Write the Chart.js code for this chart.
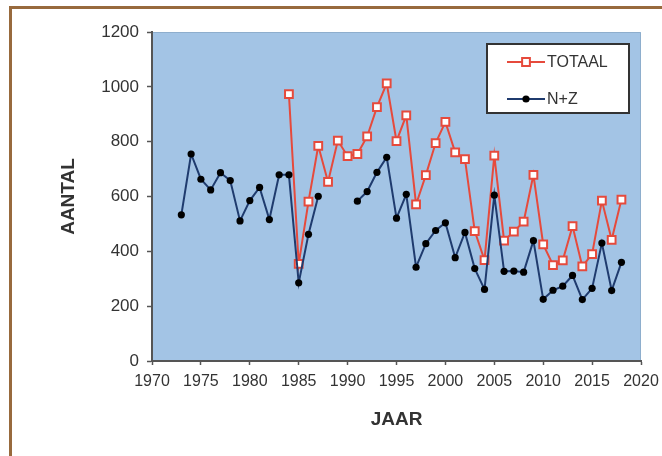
<!DOCTYPE html>
<html>
<head>
<meta charset="utf-8">
<script src="https://cdn.jsdelivr.net/npm/chart.js@4.4.1/dist/chart.umd.min.js"></script>
<style>
    html, body { margin: 0; padding: 0; background: #ffffff; }
    #wrap { position: relative; width: 662px; height: 456px; overflow: hidden; }
    #frame {
        position: absolute; top: 6px; left: 9px; right: 0; bottom: 0;
        border-top: 3px solid #986a3d; border-left: 3px solid #986a3d;
    }
    #chart { position: absolute; top: 0; left: 0; }
</style>
</head>
<body>
<div id="wrap">
    <div id="frame"></div>
    <canvas id="chart" width="662" height="456"></canvas>
</div>
<script>
// Years on the x axis
const years = [1973, 1974, 1975, 1976, 1977, 1978, 1979, 1980, 1981, 1982,
               1983, 1984, 1985, 1986, 1987, 1988, 1989, 1990, 1991, 1992,
               1993, 1994, 1995, 1996, 1997, 1998, 1999, 2000, 2001, 2002,
               2003, 2004, 2005, 2006, 2007, 2008, 2009, 2010, 2011, 2012,
               2013, 2014, 2015, 2016, 2017, 2018];

// TOTAAL (starts in 1984)
const totaal = [null, null, null, null, null, null, null, null, null, null,
                null, 973, 354, 581, 785, 653, 804, 747, 755, 819,
                926, 1013, 802, 896, 571, 678, 795, 872, 761, 736,
                474, 368, 749, 439, 472, 508, 679, 425, 350, 367,
                492, 345, 390, 585, 442, 589];

// N+Z (no values 1988-1990)
const nz = [533, 755, 663, 624, 687, 658, 511, 585, 633, 516,
            679, 679, 285, 462, 601, null, null, null, 583, 618,
            688, 743, 521, 608, 342, 428, 476, 504, 377, 469,
            337, 261, 605, 327, 328, 324, 439, 225, 258, 273,
            312, 224, 265, 430, 257, 360];

const yTicks = [0, 200, 400, 600, 800, 1000, 1200];

const toPoints = values => years.map((year, i) => ({ x: year, y: values[i] }));

const FONT = "'Liberation Sans', Arial, sans-serif";

// Light blue plot area behind the lines
const plotBackground = {
    id: "plotBackground",
    beforeDraw(chart) {
        const { ctx, chartArea: a } = chart;
        ctx.save();
        ctx.fillStyle = "#a3c4e5";
        ctx.fillRect(a.left, a.top, a.right - a.left, a.bottom - a.top);
        ctx.strokeStyle = "#8eaecd";
        ctx.lineWidth = 1;
        ctx.beginPath();
        ctx.moveTo(a.left, a.top + 0.5);
        ctx.lineTo(a.right - 0.5, a.top + 0.5);
        ctx.lineTo(a.right - 0.5, a.bottom);
        ctx.stroke();
        ctx.restore();
    }
};

// Boxed legend in the top right corner, line + marker samples
const boxLegend = {
    id: "boxLegend",
    afterDraw(chart) {
        const { ctx } = chart;
        const x = 487, y = 44, w = 142, h = 69;
        ctx.save();
        ctx.fillStyle = "#ffffff";
        ctx.fillRect(x, y, w, h);
        ctx.strokeStyle = "#333333";
        ctx.lineWidth = 2;
        ctx.strokeRect(x, y, w, h);

        const rows = [62, 99];
        chart.data.datasets.forEach((ds, i) => {
            const ry = rows[i];
            ctx.strokeStyle = ds.borderColor;
            ctx.lineWidth = 2;
            ctx.beginPath();
            ctx.moveTo(507, ry);
            ctx.lineTo(545, ry);
            ctx.stroke();
            ctx.fillStyle = ds.pointBackgroundColor;
            ctx.strokeStyle = ds.pointBorderColor;
            ctx.lineWidth = ds.pointBorderWidth;
            Chart.helpers.drawPoint(ctx, {
                pointStyle: ds.pointStyle,
                radius: ds.pointRadius,
                borderWidth: ds.pointBorderWidth
            }, 526, ry);
            ctx.fillStyle = "#333333";
            ctx.font = "16px " + FONT;
            ctx.textBaseline = "middle";
            ctx.textAlign = "left";
            ctx.fillText(ds.label, 547, ry + 1);
        });
        ctx.restore();
    }
};

const ctx = document.getElementById("chart").getContext("2d");

const chart = new Chart(ctx, {
    type: "line",
    data: {
        datasets: [{
            label: "TOTAAL",
            data: toPoints(totaal),
            borderColor: "#e64a3c",
            borderWidth: 2,
            pointStyle: "rect",
            pointRadius: 5.5,
            pointBorderWidth: 2,
            pointBackgroundColor: "#ffffff",
            pointBorderColor: "#e64a3c",
            spanGaps: false,
            tension: 0,
            order: 2
        }, {
            label: "N+Z",
            data: toPoints(nz),
            borderColor: "#1f3b6e",
            borderWidth: 2,
            pointStyle: "circle",
            pointRadius: 3.6,
            pointBorderWidth: 0,
            pointBackgroundColor: "#000000",
            pointBorderColor: "#000000",
            spanGaps: false,
            tension: 0,
            order: 1
        }]
    },
    options: {
        responsive: false,
        animation: false,
        layout: { padding: { left: 0, top: 32, right: 21, bottom: 0 } },
        plugins: {
            legend: { display: false },
            tooltip: { enabled: false }
        },
        scales: {
            x: {
                type: "linear",
                min: 1970,
                max: 2020,
                afterFit: s => { s.height = 95; s.paddingLeft = 0; s.paddingRight = 0; },
                ticks: {
                    stepSize: 5,
                    padding: 7,
                    color: "#333333",
                    font: { family: FONT, size: 16 },
                    maxRotation: 0,
                    callback: v => String(v)
                },
                grid: { drawOnChartArea: false, tickLength: 4, color: "#555555", tickWidth: 1.5 },
                border: { color: "#555555", width: 2 },
                title: {
                    display: true,
                    text: "JAAR",
                    color: "#333333",
                    font: { family: FONT, size: 19, weight: "bold" },
                    padding: { top: 0, bottom: 25 }
                }
            },
            y: {
                min: 0,
                max: 1200,
                afterFit: s => { s.width = 152; s.paddingTop = 0; s.paddingBottom = 0; },
                afterBuildTicks: s => { s.ticks = yTicks.map(v => ({ value: v })); },
                ticks: {
                    padding: 8,
                    color: "#333333",
                    font: { family: FONT, size: 17 },
                    callback: v => String(v)
                },
                grid: { drawOnChartArea: false, tickLength: 5, color: "#555555", tickWidth: 1.5 },
                border: { color: "#555555", width: 2 },
                title: {
                    display: true,
                    text: "AANTAL",
                    color: "#333333",
                    font: { family: FONT, size: 19, weight: "bold" },
                    padding: { top: 57, bottom: 0 }
                }
            }
        }
    },
    plugins: [plotBackground, boxLegend]
});
</script>
</body>
</html>
